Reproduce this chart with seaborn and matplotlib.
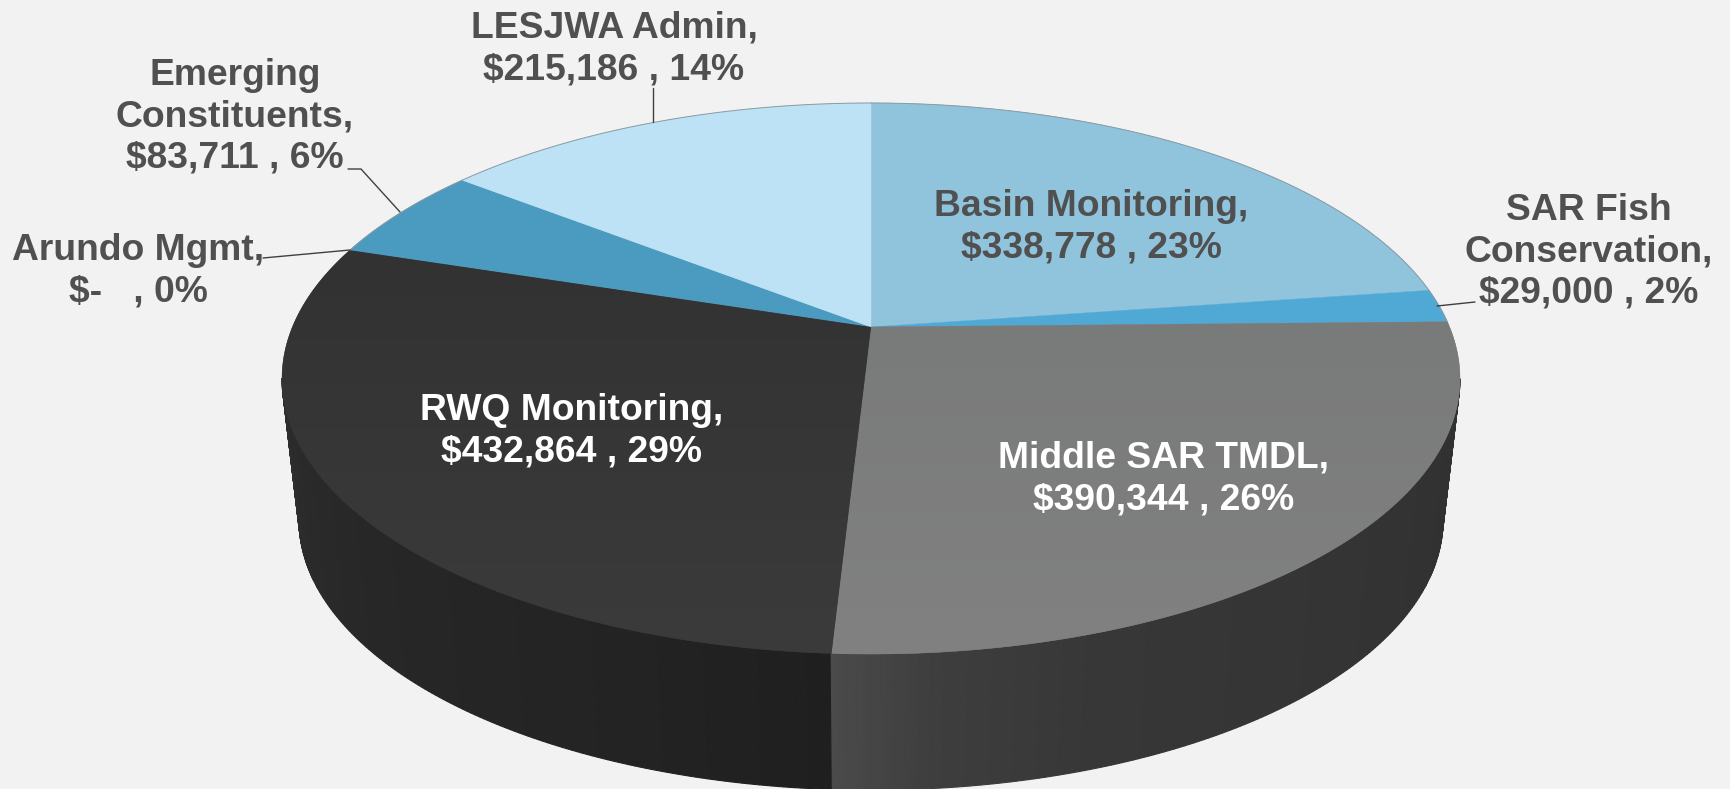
import numpy as np
import matplotlib
matplotlib.use("Agg")
import matplotlib.pyplot as plt
from matplotlib.colors import LinearSegmentedColormap
from matplotlib.patches import Polygon
import seaborn as sns

# ---- data ----
categories = ["Basin Monitoring", "SAR Fish Conservation", "Middle SAR TMDL",
              "RWQ Monitoring", "Arundo Mgmt", "Emerging Constituents", "LESJWA Admin"]
values = [338778, 29000, 390344, 432864, 0, 83711, 215186]
top_colors = ["#90c3dc", "#50a8d5", "#7b7c7c", "#363636", "#3a3a3a", "#4b9bc0", "#bee2f5"]
# slices that fade slightly from top to bottom of the picture
top_gradients = {2: ("#797a7a", "#818181"), 3: ("#323232", "#3b3b3b")}

labels = ["Basin Monitoring,\n$338,778 , 23%", "SAR Fish\nConservation,\n$29,000 , 2%",
          "Middle SAR TMDL,\n$390,344 , 26%", "RWQ Monitoring,\n$432,864 , 29%",
          "Arundo Mgmt,\n$-   , 0%", "Emerging\nConstituents,\n$83,711 , 6%",
          "LESJWA Admin,\n$215,186 , 14%"]
label_x = [1091, 1589, 1164, 572, 138, 235, 614]
label_y = [227, 252, 479, 431, 271, 117, 49]
label_colors = ["#505050", "#505050", "white", "white", "#505050", "#505050", "#505050"]

leaders = [[(653, 88), (653, 122)],
           [(348, 169), (361, 169), (400, 212)],
           [(263, 258), (350, 250)],
           [(1475, 302), (1437, 306)]]

# ---- style / projection settings ----
BG = "#f2f2f2"
APEX_X, APEX_Y = 871.0, 327.0
SCALE_X, SCALE_Y, PERSP = 578.6, 265.9, 0.187
TOP_CY, TOP_RX, TOP_RY = 378.5, 589.0, 275.5
BOT_CY, BOT_RX, BOT_RY = 520.0, 572.0, 270.0

sns.set_theme(style="white", rc={"figure.facecolor": BG, "axes.facecolor": BG})
plt.rcParams["font.family"] = ["Liberation Sans", "DejaVu Sans"]

fig = plt.figure(figsize=(17.31, 7.89), dpi=100)
ax = fig.add_axes([0, 0, 1, 1])


def project(theta_deg):
    t = np.radians(theta_deg)
    X, Y = np.cos(t), np.sin(t)
    w = 1 + PERSP * Y
    return APEX_X + SCALE_X * X / w, APEX_Y - SCALE_Y * Y / w


def lower(x, y):
    return APEX_X + (x - APEX_X) * BOT_RX / TOP_RX, BOT_CY + (y - TOP_CY) * BOT_RY / TOP_RY


# the pie supplies the slice angles from the values
wedges, _ = ax.pie(values, startangle=90, counterclock=False)
angles = [(w.theta1, w.theta2) for w in wedges]
for w in wedges:
    w.remove()
ax.set_aspect("auto")
ax.axis("off")
fig.patch.set_facecolor(BG)

# normalise angles to run from 90 clockwise (degrees decreasing)
spans = []
for a, b in angles:
    hi = b if b <= 90 else b - 360
    lo = a if a <= 90 else a - 360
    if lo > hi:
        lo -= 360
    spans.append((lo, hi))
mid_lo = spans[2][0]  # Middle / RWQ boundary


def wall_shade(t):
    if t > mid_lo:
        return np.interp(t, [mid_lo, mid_lo + 8, mid_lo + 22, -10], [0x4a, 0x3e, 0x37, 0x30])
    return np.interp(t, [-169, -140, -110, mid_lo], [0x2d, 0x27, 0x23, 0x1f])


# outer wall as thin strips
edges = np.arange(-10.8, -169.6, -0.5)
for t0, t1 in zip(edges[:-1], edges[1:]):
    ts = np.array([t0, t1])
    x, y = project(ts)
    bx, by = lower(x, y)
    g = wall_shade((t0 + t1) / 2) / 255
    ax.fill(np.r_[x, bx[::-1]], np.r_[y, by[::-1]], color=(g, g, g), lw=0.8, zorder=2)

# top surface
for i, ((lo, hi), col) in enumerate(zip(spans, top_colors)):
    if hi - lo < 1e-6:
        continue
    ts = np.linspace(hi, lo, 200)
    x, y = project(ts)
    px, py = np.r_[APEX_X, x], np.r_[APEX_Y, y]
    ax.fill(px, py, color=col, lw=0.3, zorder=3)
    if i in top_gradients:
        cmap = LinearSegmentedColormap.from_list("g%d" % i, top_gradients[i])
        im = ax.imshow(np.linspace(0, 1, 256)[:, None], cmap=cmap, aspect="auto",
                       extent=(px.min(), px.max(), py.max(), py.min()), zorder=3.5)
        clip = Polygon(np.c_[px, py], closed=True, transform=ax.transData)
        im.set_clip_path(clip)
    if col in ("#90c3dc", "#bee2f5", "#4b9bc0", "#50a8d5"):
        ax.plot(x, y, color="#8a9aa2", lw=0.7, zorder=4)

# leaders
for pts in leaders:
    xs, ys = zip(*pts)
    ax.plot(xs, ys, color="#404040", lw=1.0, zorder=5)

# labels
for txt, x, y, c in zip(labels, label_x, label_y, label_colors):
    ax.text(x, y, txt, ha="center", va="center", color=c, fontsize=26.8,
            fontweight="bold", linespacing=1.235, zorder=6)

ax.set_xlim(0, 1731)
ax.set_ylim(789, 0)
fig.savefig("out.png", dpi=100, facecolor=BG)
